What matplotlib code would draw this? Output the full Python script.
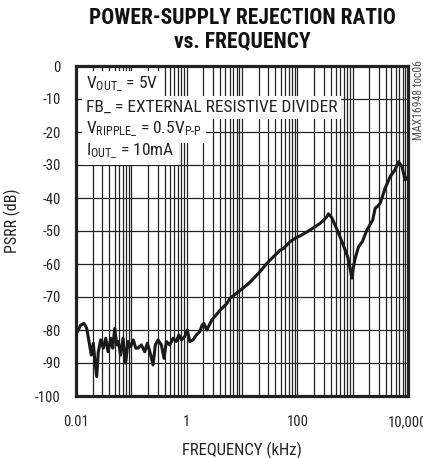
import matplotlib
matplotlib.use("Agg")
import matplotlib.pyplot as plt
from matplotlib import font_manager as fm
from matplotlib.ticker import FixedLocator, NullFormatter

names = {f.name for f in fm.fontManager.ttflist}
def pick(cands, default):
    for c in cands:
        if c in names:
            return c
    return default
body_font = pick(['Liberation Sans Narrow', 'Roboto Condensed', 'Archivo Narrow', 'Asap Condensed'], 'DejaVu Sans')
title_font = pick(['Roboto Condensed', 'Barlow Condensed', 'Archivo Narrow', 'Liberation Sans Narrow'], body_font)
plt.rcParams['font.family'] = [body_font, 'DejaVu Sans']
plt.rcParams['mathtext.fontset'] = 'custom'
plt.rcParams['mathtext.rm'] = body_font
plt.rcParams['mathtext.it'] = body_font
plt.rcParams['mathtext.bf'] = body_font

# data
freq_khz = [0.0100, 0.0106, 0.01216, 0.01395, 0.01561, 0.01718, 0.01891, 0.02055, 0.02178,
            0.02367, 0.02531, 0.02797, 0.03117, 0.03444, 0.03790, 0.04241, 0.04610, 0.05010,
            0.05445, 0.05820, 0.06431, 0.07077, 0.07893, 0.08718, 0.09754, 0.1087, 0.1201,
            0.1322, 0.1516, 0.1747, 0.1947, 0.2243, 0.2469, 0.2716, 0.3039, 0.3487, 0.3902,
            0.4295, 0.4947, 0.5678, 0.6513, 0.7197, 0.8023, 0.9240, 1.0296, 1.138, 1.306,
            1.498, 1.726, 1.899, 2.05, 2.31, 2.84, 4.02, 5.31, 6.09, 9.25, 14.0, 21.2, 28.1,
            32.2, 48.9, 56.1, 74.1, 97.9, 112, 170, 258, 330, 365, 420, 520, 650, 820, 900,
            968, 1030, 1110, 1274, 1500, 1807, 2300, 2553, 2800, 3143, 3870, 4767, 5800,
            6730, 7760, 8895, 9550, 10000]
psrr_db = [-81, -80.5, -78.5, -78, -79.5, -83.5, -87.6, -84, -88.6,
           -94.1, -86.6, -83, -85.5, -82.5, -86.6, -82.5, -85.5, -79.5,
           -84.5, -83.5, -87.6, -82.5, -90, -83.5, -85, -83, -85.5,
           -85.5, -84.5, -86.6, -84, -87.6, -90.6, -84.5, -83, -84.5, -88.6,
           -83.5, -84.5, -82.5, -83.5, -81.5, -83, -82, -80, -83.5, -83,
           -81.5, -80.5, -78.5, -78, -80, -77, -74, -72, -70.4, -68, -65.5, -62.3, -59.8,
           -58.8, -55.8, -55.3, -53.2, -51.9, -51.5, -49.7, -47.7, -46.0, -44.8, -46.0, -49.5,
           -53.5, -58.0, -61.5, -64.3, -61.0, -58.3, -54.8, -53.2, -49.7, -46.7, -43.1,
           -42.6, -41.6, -37.0, -33.5, -31.5, -29.0, -30.5, -34.5, -34.0, -33.5]

xtick_vals = [0.01, 1, 100, 10000]
xtick_labels = ['0.01', '1', '100', '10,000']
ytick_vals = [0, -10, -20, -30, -40, -50, -60, -70, -80, -90, -100]

ink = '#222222'
fig = plt.figure(figsize=(4.23, 4.58), dpi=100)
ax = fig.add_axes([76/423, 1 - 396/458, 332/423, 330/458])
ax.set_xscale('log')
ax.set_xlim(0.01, 10000)
ax.set_ylim(-100, 0)

minor = [m * 10.0**e for e in range(-2, 4) for m in range(2, 10)]
decades = [10.0**e for e in range(-2, 5)]
ax.xaxis.set_minor_locator(FixedLocator(minor + [d for d in decades if d not in xtick_vals]))
ax.xaxis.set_minor_formatter(NullFormatter())
ax.set_xticks(xtick_vals)
ax.set_xticklabels(xtick_labels)
ax.set_yticks(ytick_vals)
ax.set_yticklabels([str(v) for v in ytick_vals])
ax.grid(True, which='both', axis='x', color=ink, lw=0.9)
ax.grid(True, which='major', axis='y', color=ink, lw=0.9)
ax.tick_params(which='both', length=0, labelsize=10.5, colors=ink)
ax.tick_params(axis='x', pad=14)
ax.tick_params(axis='y', pad=11)
for s in ax.spines.values():
    s.set_linewidth(2.3)
    s.set_color(ink)

ax.plot(freq_khz, psrr_db, color='#1a1a1a', lw=2.2, solid_joinstyle='round', zorder=3)

ax.set_xlabel('FREQUENCY (kHz)', fontsize=12, color=ink)
ax.xaxis.set_label_coords(0.5, -(450 - 396) / 330, transform=ax.transAxes)
ax.xaxis.label.set_va('center')
ax.set_ylabel('PSRR (dB)', fontsize=11.5, color=ink)
ax.yaxis.set_label_coords((12 - 76) / 332, (396 - 221) / 330, transform=ax.transAxes)
ax.yaxis.label.set_va('center')

lines = [r'V$_{\mathregular{OUT\_}}$ = 5V',
         'FB_ = EXTERNAL RESISTIVE DIVIDER',
         r'V$_{\mathregular{RIPPLE\_}}$ = 0.5V$_{\text{P-P}}$',
         r'I$_{\mathregular{OUT\_}}$ = 10mA']
ys = [-5.6, -12.5, -19.2, -25.8]
for t, y in zip(lines, ys):
    ax.text(0.0150, y, t, fontsize=12.5, color='white', alpha=0, va='center', ha='left',
            bbox=dict(facecolor='white', edgecolor='none', pad=3.0, alpha=1), zorder=4)
for t, y in zip(lines, ys):
    ax.text(0.0150, y, t, fontsize=12.5, color=ink, va='center', ha='left', zorder=5)

title_kw = dict(ha='center', va='center', fontsize=15.5, fontweight='heavy',
                family=[title_font, 'DejaVu Sans'], color='#111111')
fig.text(242/423, 1 - 18/458, 'POWER-SUPPLY REJECTION RATIO', **title_kw)
fig.text(242/423, 1 - 41/458, 'vs. FREQUENCY', **title_kw)
fig.text(418/423, 1 - 60/458, 'MAX16948 toc06', rotation=90, ha='center', va='top',
         fontsize=8.5, color='#555555')

fig.savefig('out.png', dpi=100)
